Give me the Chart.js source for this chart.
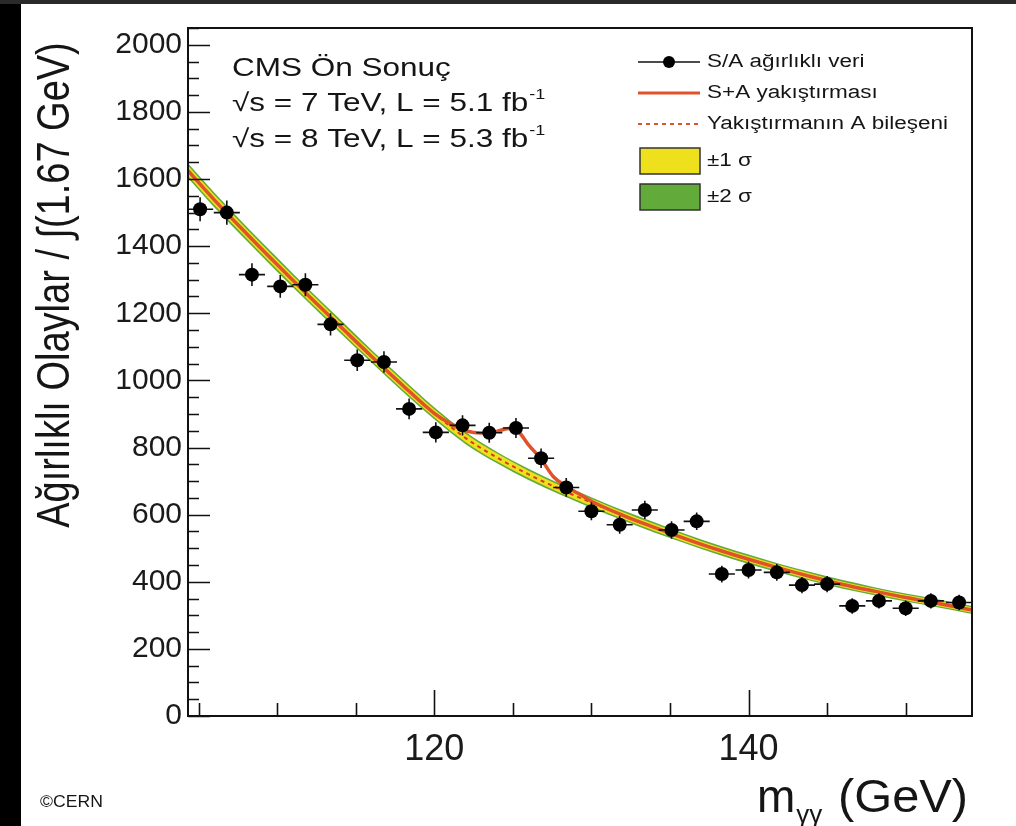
<!DOCTYPE html>
<html><head><meta charset="utf-8">
<script src="https://cdn.jsdelivr.net/npm/chart.js@4"></script>
<style>
html,body{margin:0;padding:0;background:#fff;}
#wrap{position:relative;width:1016px;height:826px;overflow:hidden;background:#fff;}
#lb{position:absolute;left:0;top:0;width:21px;height:826px;background:#000;}
#tb{position:absolute;left:0;top:0;width:1016px;height:4px;background:#2a2a2a;}
canvas{position:absolute;left:0;top:0;}
</style></head><body>
<div id="wrap"><canvas id="c" width="1016" height="826"></canvas><div id="lb"></div><div id="tb"></div></div>
<script>
// ---- data ----
const massBins = [105.1,106.8,108.4,110.2,111.8,113.4,115.1,116.8,118.4,120.1,121.8,123.5,125.2,126.8,128.4,130.0,131.8,133.4,135.1,136.7,138.3,140.0,141.8,143.4,145.0,146.6,148.3,150.0,151.6,153.4];
const weightedEvents = [1510,1500,1315,1280,1285,1167,1060,1055,915,845,866,844,858,768,681,610,570,614,554,580,423,435,428,390,393,328,343,321,343,338];
const eventErrors = [36,36,34,34,34,33,32,32,31,30,30,30,30,29,28,27,27,27,26,26,25,25,25,24,24,23,23,23,23,23];
const binHalfWidth = 0.83;

const fitMass = [104.33,106,108,110,112,114,116,118,120,122,124,126,128,130,132,134,136,138,140,142,144,146,148,150,152,154.22];
const bkgFit  = [1625,1538,1440,1345,1252,1162,1072,985,902,828,770,720,676,636,598,562,528,496,467,440,415,392,372,353,336,316];
const band1Hi = [1640,1553,1454,1359,1266,1175,1085,998,914,840,782,731,687,647,608,572,538,505,476,449,424,400,380,361,344,324];
const band1Lo = [1610,1523,1426,1331,1238,1149,1059,972,890,816,758,709,665,625,588,552,518,487,458,431,406,384,364,345,328,308];
const band2Hi = [1647,1560,1461,1366,1272,1182,1091,1004,920,846,787,737,692,652,613,577,542,510,481,453,428,405,384,365,348,328];
const band2Lo = [1603,1516,1419,1324,1232,1142,1053,966,884,810,753,703,660,620,583,547,514,482,453,427,402,379,360,341,324,304];

const sbMass = [104.33,106,108,110,112,114,116,118,120,121,122,123,124,124.7,125.3,126,126.8,127.6,128.4,129.2,130,132,134,136,138,140,142,144,146,148,150,152,154.22];
const sbFit  = [1625,1538,1440,1345,1252,1162,1072,985,902,872,850,843,848,857,850,808,765,712,684,662,640,598,562,528,496,467,440,415,392,372,353,336,316];

const xTickLabels = [120,140];
const xMinorTicks = [105,110,115,125,130,135,145,150];
const yTickLabels = [0,200,400,600,800,1000,1200,1400,1600,1800,2000];

const seriesNames = ['S/A ağırlıklı veri','S+A yakıştırması','Yakıştırmanın A bileşeni','±1 σ','±2 σ'];

// ---- build chart ----
const pts = (xs, ys) => xs.map((v,i)=>({x:v,y:ys[i]}));
const SANS = "'Liberation Sans', Arial, Helvetica, sans-serif";
const RED = '#e0522a';
const YEL = '#efe01e';
const GRN = '#62ab3a';

function stretchText(ctx, text, x, y, font, sx, align, base){
  ctx.save();
  ctx.font = font; ctx.textAlign = align||'left'; ctx.textBaseline = base||'middle';
  ctx.translate(x, y); ctx.scale(sx, 1);
  ctx.fillText(text, 0, 0);
  const w = ctx.measureText(text).width*sx;
  ctx.restore();
  return w;
}

const decor = {
  id: 'decor',
  beforeDatasetDraw(chart, args){
    if (args.index !== 0) return;
    const {ctx, scales:{x, y}} = chart;
    ctx.save();
    ctx.strokeStyle = '#111'; ctx.lineWidth = 1.6;
    massBins.forEach((m,i)=>{
      const v = weightedEvents[i], e = eventErrors[i];
      const px = x.getPixelForValue(m), py = y.getPixelForValue(v);
      ctx.beginPath();
      ctx.moveTo(x.getPixelForValue(m-binHalfWidth), py);
      ctx.lineTo(x.getPixelForValue(m+binHalfWidth), py);
      ctx.moveTo(px, y.getPixelForValue(v-e));
      ctx.lineTo(px, y.getPixelForValue(v+e));
      ctx.stroke();
    });
    ctx.restore();
  },
  afterDraw(chart){
    const {ctx, chartArea:a, scales:{x, y}} = chart;
    ctx.save();
    // frame
    ctx.strokeStyle = '#111'; ctx.lineWidth = 2;
    ctx.strokeRect(a.left, a.top, a.right-a.left, a.bottom-a.top);
    // inward ticks
    ctx.lineWidth = 1.6;
    ctx.beginPath();
    for (let v = 0; v <= y.max; v += 50){
      const py = Math.round(y.getPixelForValue(v))+0.5;
      const len = (v % 200 === 0) ? 22 : 11;
      ctx.moveTo(a.left, py); ctx.lineTo(a.left+len, py);
    }
    xMinorTicks.forEach(v=>{ const px=Math.round(x.getPixelForValue(v))+0.5; ctx.moveTo(px,a.bottom); ctx.lineTo(px,a.bottom-13); });
    xTickLabels.forEach(v=>{ const px=Math.round(x.getPixelForValue(v))+0.5; ctx.moveTo(px,a.bottom); ctx.lineTo(px,a.bottom-26); });
    ctx.stroke();

    ctx.fillStyle = '#151515';
    // annotations
    stretchText(ctx, 'CMS Ön Sonuç', 232, 69, '25px '+SANS, 1.26);
    let w = stretchText(ctx, '√s = 7 TeV, L = 5.1 fb', 232, 104, '25px '+SANS, 1.26);
    stretchText(ctx, '-1', 232+w+1, 95, '15px '+SANS, 1.2);
    w = stretchText(ctx, '√s = 8 TeV, L = 5.3 fb', 232, 140, '25px '+SANS, 1.26);
    stretchText(ctx, '-1', 232+w+1, 131, '15px '+SANS, 1.2);

    // legend
    const lx0 = 638, lx1 = 700, tx = 707;
    const rows = [62, 93, 124, 161, 197];
    ctx.strokeStyle = '#111'; ctx.lineWidth = 1.5;
    ctx.beginPath(); ctx.moveTo(lx0, rows[0]); ctx.lineTo(lx1, rows[0]); ctx.stroke();
    ctx.beginPath(); ctx.arc((lx0+lx1)/2, rows[0], 6, 0, Math.PI*2); ctx.fillStyle='#000'; ctx.fill();
    ctx.strokeStyle = RED; ctx.lineWidth = 3;
    ctx.beginPath(); ctx.moveTo(lx0, rows[1]); ctx.lineTo(lx1, rows[1]); ctx.stroke();
    ctx.lineWidth = 2; ctx.setLineDash([4,4]);
    ctx.beginPath(); ctx.moveTo(lx0, rows[2]); ctx.lineTo(lx1, rows[2]); ctx.stroke();
    ctx.setLineDash([]);
    ctx.lineWidth = 1.5; ctx.strokeStyle = '#333';
    ctx.fillStyle = YEL; ctx.fillRect(lx0+2, rows[3]-13, 60, 26); ctx.strokeRect(lx0+2, rows[3]-13, 60, 26);
    ctx.fillStyle = GRN; ctx.fillRect(lx0+2, rows[4]-13, 60, 26); ctx.strokeRect(lx0+2, rows[4]-13, 60, 26);
    ctx.fillStyle = '#151515';
    seriesNames.forEach((t,i)=> stretchText(ctx, t, tx, rows[i], '18px '+SANS, 1.25));

    // y title
    ctx.save();
    ctx.translate(56, 285); ctx.rotate(-Math.PI/2); ctx.scale(1, 1.2);
    ctx.font = '38px '+SANS; ctx.textAlign='center'; ctx.textBaseline='middle';
    ctx.fillText('Ağırlıklı Olaylar / ∫(1.67 GeV)', 0, 0);
    ctx.restore();

    // x title  m_{γγ} (GeV)
    ctx.font = '46px '+SANS; ctx.textAlign='left'; ctx.textBaseline='alphabetic';
    ctx.fillText('m', 757, 812);
    const mw = ctx.measureText('m').width;
    ctx.font = '26px '+SANS;
    ctx.fillText('γγ', 757+mw+1, 823);
    ctx.font = '46px '+SANS;
    stretchText(ctx, '(GeV)', 838, 812, '46px '+SANS, 1.06, 'left', 'alphabetic');

    // credit
    stretchText(ctx, '©CERN', 40, 803, '16px '+SANS, 1.1);
    ctx.restore();
  }
};

new Chart(document.getElementById('c'), {
  type: 'line',
  data: {
    datasets: [
      { label: seriesNames[0], data: pts(massBins, weightedEvents), showLine:false,
        pointRadius:7, pointBackgroundColor:'#000', pointBorderColor:'#000', pointBorderWidth:0 },
      { label: seriesNames[1], data: pts(sbMass, sbFit), borderColor: RED, borderWidth:3.5,
        pointRadius:0, cubicInterpolationMode:'monotone', fill:false },
      { label: seriesNames[2], data: pts(fitMass, bkgFit), borderColor:'#d83a22', borderWidth:2,
        borderDash:[4,4], pointRadius:0, cubicInterpolationMode:'monotone', fill:false },
      { label: seriesNames[3], data: pts(fitMass, band1Hi), borderColor:'rgba(0,0,0,0)', borderWidth:0,
        backgroundColor: YEL, pointRadius:0, cubicInterpolationMode:'monotone', fill: 4 },
      { label: seriesNames[3]+' alt', data: pts(fitMass, band1Lo), borderColor:'rgba(0,0,0,0)', borderWidth:0,
        pointRadius:0, cubicInterpolationMode:'monotone', fill:false },
      { label: seriesNames[4], data: pts(fitMass, band2Hi), borderColor:'rgba(0,0,0,0)', borderWidth:0,
        backgroundColor: GRN, pointRadius:0, cubicInterpolationMode:'monotone', fill: 6 },
      { label: seriesNames[4]+' alt', data: pts(fitMass, band2Lo), borderColor:'rgba(0,0,0,0)', borderWidth:0,
        pointRadius:0, cubicInterpolationMode:'monotone', fill:false }
    ]
  },
  options: {
    responsive:false, animation:false, devicePixelRatio:1,
    layout: { padding: { left:0, top:28, right:44, bottom:0 } },
    plugins: { legend:{display:false}, tooltip:{enabled:false} },
    scales: {
      x: { type:'linear', min:104.33, max:154.22,
           grid:{display:false, drawTicks:false}, border:{display:false},
           afterBuildTicks: s => { s.ticks = xTickLabels.map(v=>({value:v})); },
           afterFit: s => { s.height = 110; },
           ticks:{ padding:12, autoSkip:false, maxRotation:0, color:'#1a1a1a',
                   font:{family:SANS, size:36}, callback: v => String(v) } },
      y: { type:'linear', min:0, max:2050,
           grid:{display:false, drawTicks:false}, border:{display:false},
           afterBuildTicks: s => { s.ticks = yTickLabels.map(v=>({value:v})); },
           afterFit: s => { s.width = 188; },
           ticks:{ padding:6, autoSkip:false, color:'#1a1a1a',
                   font:{family:SANS, size:30}, callback: v => String(v) } }
    }
  },
  plugins:[decor]
});
</script>
</body></html>
